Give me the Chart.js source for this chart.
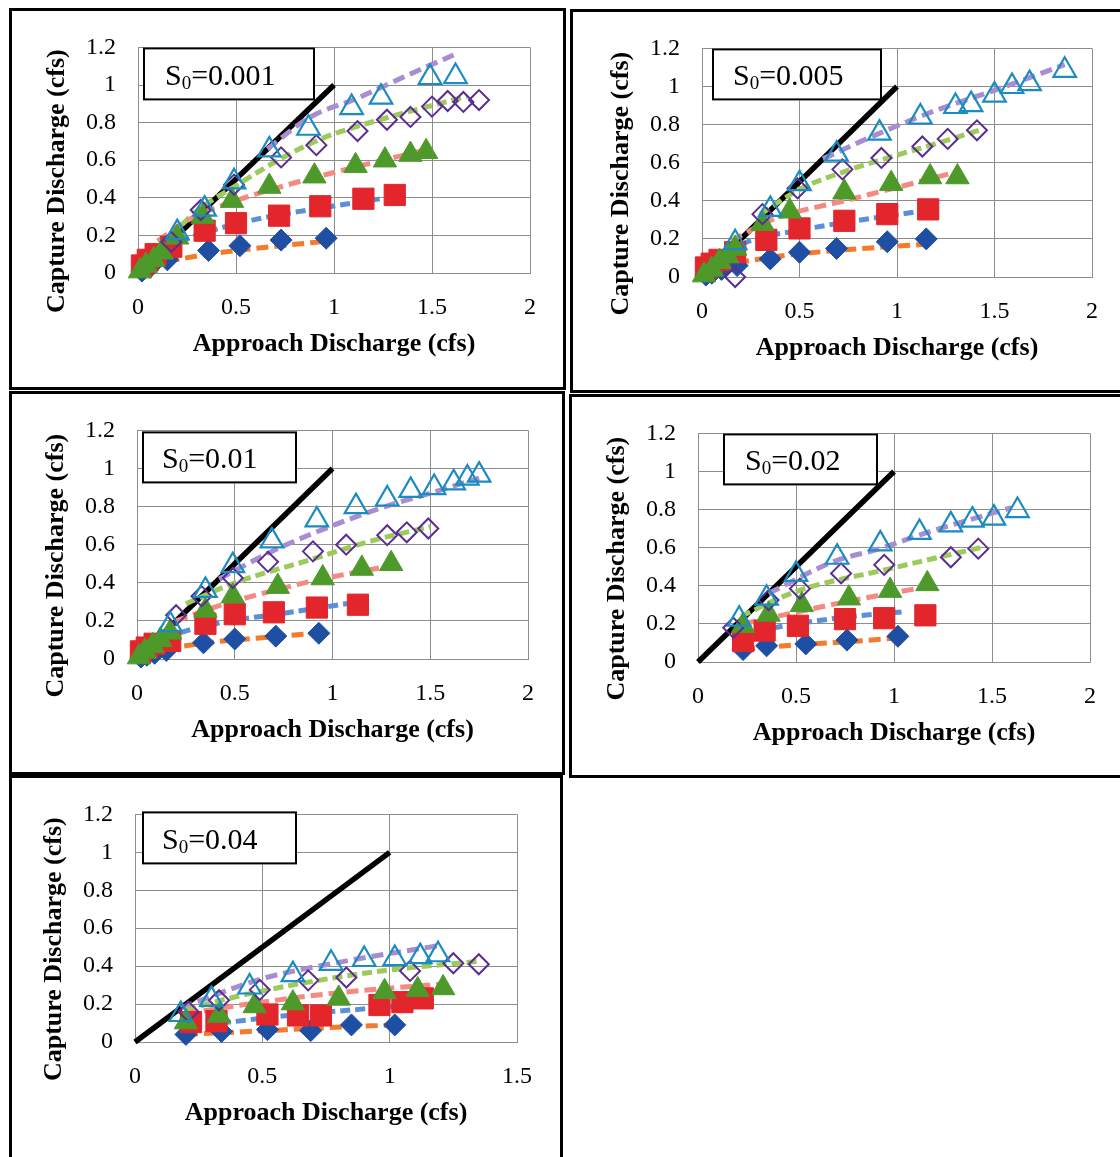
<!DOCTYPE html>
<html>
<head>
<meta charset="utf-8">
<script src="https://cdn.jsdelivr.net/npm/chart.js@4.4.1/dist/chart.umd.min.js"></script>
<style>
html,body{margin:0;padding:0;background:#fff;}
body{width:1120px;height:1157px;position:relative;overflow:hidden;}
.box{position:absolute;border:3px solid #000;box-sizing:border-box;pointer-events:none;}
canvas{position:absolute;}
</style>
</head>
<body>
<script>
// ---------------- DATA ----------------
const xTickLabels2 = ['0','0.5','1','1.5','2'];
const xTickLabels15 = ['0','0.5','1','1.5'];
const yTickLabels = ['0','0.2','0.4','0.6','0.8','1','1.2'];
const slopeLabels = ['0.001','0.005','0.01','0.02','0.04'];
const xTitle = 'Approach Discharge (cfs)';
const yTitle = 'Capture Discharge (cfs)';
const equalityLine = [[0,0],[1,1]];

// Panel 1  S0=0.001
const p1Diamonds = [[0.02,0.01],[0.06,0.03],[0.15,0.07],[0.36,0.12],[0.52,0.145],[0.73,0.175],[0.96,0.185]];
const p1DiamondTrend = [[0.15,0.062],[0.3,0.09],[0.5,0.119],[0.73,0.145],[0.96,0.169]];
const p1Squares = [[0.02,0.04],[0.05,0.07],[0.09,0.1],[0.17,0.14],[0.34,0.225],[0.5,0.265],[0.72,0.305],[0.93,0.355],[1.15,0.395],[1.31,0.415]];
const p1SquareTrend = [[0.02,0.04],[0.1,0.11],[0.3,0.2],[0.6,0.285],[0.9,0.34],[1.3,0.405]];
const p1Triangles = [[0.01,0.01],[0.04,0.04],[0.08,0.07],[0.12,0.11],[0.2,0.19],[0.33,0.3],[0.48,0.385],[0.67,0.46],[0.9,0.515],[1.11,0.57],[1.26,0.6],[1.39,0.63],[1.47,0.645]];
const p1TriangleTrend = [[0.1,0.17],[0.27,0.29],[0.5,0.385],[0.75,0.465],[1.0,0.535],[1.25,0.6],[1.47,0.655]];
const p1OpenDiamonds = [[0.17,0.165],[0.32,0.335],[0.49,0.47],[0.73,0.615],[0.91,0.68],[1.12,0.755],[1.27,0.815],[1.39,0.83],[1.5,0.885],[1.58,0.915],[1.66,0.91],[1.74,0.92]];
const p1OpenDiamondTrend = [[0.17,0.2],[0.3,0.33],[0.5,0.465],[0.75,0.62],[0.95,0.72],[1.25,0.82],[1.68,0.94]];
const p1OpenTriangles = [[0.2,0.215],[0.34,0.34],[0.49,0.485],[0.67,0.655],[0.87,0.77],[1.09,0.88],[1.24,0.935],[1.49,1.04],[1.62,1.045]];
const p1OpenTriangleTrend = [[0.66,0.66],[0.88,0.83],[1.12,0.93],[1.35,1.04],[1.61,1.16]];

// Panel 2  S0=0.005
const p2Diamonds = [[0.02,0.01],[0.05,0.02],[0.1,0.04],[0.18,0.06],[0.35,0.095],[0.5,0.13],[0.69,0.15],[0.95,0.185],[1.15,0.2]];
const p2DiamondTrend = [[0.18,0.075],[0.4,0.11],[0.7,0.14],[1.15,0.172]];
const p2Squares = [[0.02,0.05],[0.05,0.07],[0.09,0.09],[0.17,0.13],[0.33,0.195],[0.5,0.255],[0.73,0.295],[0.95,0.33],[1.16,0.355]];
const p2SquareTrend = [[0.02,0.03],[0.2,0.17],[0.5,0.245],[0.95,0.32],[1.16,0.35]];
const p2Triangles = [[0.01,0.01],[0.05,0.04],[0.09,0.08],[0.13,0.11],[0.17,0.15],[0.31,0.28],[0.45,0.345],[0.73,0.445],[0.97,0.49],[1.17,0.525],[1.31,0.525]];
const p2TriangleTrend = [[0.15,0.19],[0.37,0.305],[0.73,0.4],[1.0,0.47],[1.3,0.55]];
const p2OpenDiamonds = [[0.17,0.0],[0.31,0.33],[0.49,0.465],[0.72,0.565],[0.92,0.625],[1.13,0.685],[1.26,0.725],[1.41,0.77]];
const p2OpenDiamondTrend = [[0.3,0.33],[0.5,0.46],[0.75,0.56],[1.0,0.64],[1.2,0.7],[1.42,0.77]];
const p2OpenTriangles = [[0.17,0.18],[0.35,0.355],[0.5,0.49],[0.69,0.645],[0.91,0.755],[1.12,0.84],[1.3,0.895],[1.38,0.905],[1.5,0.955],[1.59,1.0],[1.68,1.015],[1.86,1.085]];
const p2OpenTriangleTrend = [[0.62,0.62],[0.9,0.75],[1.2,0.875],[1.5,0.98],[1.86,1.115]];

// Panel 3  S0=0.01
const p3Diamonds = [[0.02,0.01],[0.05,0.02],[0.09,0.03],[0.15,0.045],[0.34,0.085],[0.5,0.105],[0.71,0.12],[0.93,0.135]];
const p3DiamondTrend = [[0.15,0.055],[0.4,0.09],[0.7,0.117],[0.94,0.138]];
const p3Squares = [[0.02,0.04],[0.05,0.06],[0.09,0.08],[0.17,0.095],[0.35,0.185],[0.5,0.235],[0.7,0.245],[0.92,0.27],[1.13,0.285]];
const p3SquareTrend = [[0.02,0.03],[0.15,0.11],[0.4,0.185],[0.75,0.24],[1.1,0.295]];
const p3Triangles = [[0.01,0.01],[0.04,0.04],[0.08,0.07],[0.12,0.1],[0.17,0.14],[0.35,0.255],[0.49,0.33],[0.72,0.38],[0.95,0.425],[1.15,0.475],[1.3,0.5]];
const p3TriangleTrend = [[0.2,0.2],[0.42,0.28],[0.7,0.36],[0.9,0.41],[1.3,0.49]];
const p3OpenDiamonds = [[0.2,0.23],[0.33,0.33],[0.49,0.425],[0.67,0.51],[0.9,0.565],[1.07,0.6],[1.28,0.65],[1.38,0.665],[1.49,0.685]];
const p3OpenDiamondTrend = [[0.25,0.29],[0.5,0.4],[0.9,0.525],[1.2,0.62],[1.5,0.695]];
const p3OpenTriangles = [[0.17,0.18],[0.35,0.36],[0.49,0.49],[0.69,0.62],[0.92,0.73],[1.12,0.8],[1.28,0.84],[1.4,0.885],[1.52,0.9],[1.62,0.925],[1.69,0.95],[1.75,0.965]];
const p3OpenTriangleTrend = [[0.42,0.42],[0.7,0.57],[1.0,0.7],[1.3,0.81],[1.5,0.87],[1.75,0.95]];

// Panel 4  S0=0.02
const p4Diamonds = [[0.23,0.065],[0.35,0.085],[0.55,0.095],[0.76,0.115],[1.02,0.135]];
const p4DiamondTrend = [[0.23,0.065],[0.5,0.09],[0.75,0.105],[1.0,0.125]];
const p4Squares = [[0.23,0.11],[0.34,0.165],[0.51,0.19],[0.75,0.225],[0.95,0.23],[1.16,0.245]];
const p4SquareTrend = [[0.23,0.15],[0.5,0.2],[0.75,0.235],[1.06,0.265]];
const p4Triangles = [[0.23,0.19],[0.36,0.25],[0.53,0.3],[0.77,0.335],[0.98,0.375],[1.17,0.41]];
const p4TriangleTrend = [[0.23,0.2],[0.45,0.25],[0.7,0.305],[0.9,0.345],[1.17,0.395]];
const p4OpenDiamonds = [[0.18,0.18],[0.36,0.325],[0.52,0.385],[0.73,0.465],[0.95,0.51],[1.29,0.55],[1.43,0.595]];
const p4OpenDiamondTrend = [[0.22,0.24],[0.5,0.37],[0.98,0.49],[1.44,0.6]];
const p4OpenTriangles = [[0.21,0.225],[0.35,0.335],[0.5,0.46],[0.71,0.55],[0.93,0.62],[1.13,0.68],[1.29,0.72],[1.4,0.745],[1.51,0.755],[1.63,0.795]];
const p4OpenTriangleTrend = [[0.36,0.36],[0.7,0.53],[0.91,0.59],[1.2,0.69],[1.6,0.81]];

// Panel 5  S0=0.04
const p5Diamonds = [[0.2,0.04],[0.34,0.055],[0.52,0.065],[0.69,0.06],[0.85,0.09],[1.02,0.09]];
const p5DiamondTrend = [[0.2,0.04],[0.47,0.057],[0.75,0.075],[1.02,0.09]];
const p5Squares = [[0.22,0.105],[0.32,0.11],[0.52,0.145],[0.64,0.14],[0.73,0.14],[0.96,0.195],[1.05,0.21],[1.13,0.23]];
const p5SquareTrend = [[0.22,0.085],[0.37,0.105],[0.6,0.14],[0.88,0.172],[1.13,0.2]];
const p5Triangles = [[0.2,0.105],[0.33,0.14],[0.47,0.19],[0.62,0.205],[0.8,0.23],[0.98,0.265],[1.11,0.275],[1.21,0.285]];
const p5TriangleTrend = [[0.2,0.15],[0.47,0.205],[0.8,0.26],[1.2,0.305]];
const p5OpenDiamonds = [[0.21,0.16],[0.33,0.22],[0.49,0.275],[0.68,0.325],[0.83,0.34],[1.08,0.375],[1.25,0.415],[1.35,0.41]];
const p5OpenDiamondTrend = [[0.2,0.17],[0.4,0.24],[0.7,0.32],[1.0,0.38],[1.35,0.425]];
const p5OpenTriangles = [[0.18,0.145],[0.3,0.225],[0.45,0.29],[0.62,0.355],[0.77,0.415],[0.9,0.435],[1.02,0.44],[1.12,0.45],[1.19,0.46]];
const p5OpenTriangleTrend = [[0.18,0.18],[0.49,0.33],[0.8,0.42],[1.2,0.51]];

// ---------------- TABLES BUILT FROM DATA ----------------
const panelData = [
  {slope:slopeLabels[0], xMax:2,   xTicks:xTickLabels2,  series:[p1Diamonds,p1Squares,p1Triangles,p1OpenDiamonds,p1OpenTriangles], trends:[p1DiamondTrend,p1SquareTrend,p1TriangleTrend,p1OpenDiamondTrend,p1OpenTriangleTrend]},
  {slope:slopeLabels[1], xMax:2,   xTicks:xTickLabels2,  series:[p2Diamonds,p2Squares,p2Triangles,p2OpenDiamonds,p2OpenTriangles], trends:[p2DiamondTrend,p2SquareTrend,p2TriangleTrend,p2OpenDiamondTrend,p2OpenTriangleTrend]},
  {slope:slopeLabels[2], xMax:2,   xTicks:xTickLabels2,  series:[p3Diamonds,p3Squares,p3Triangles,p3OpenDiamonds,p3OpenTriangles], trends:[p3DiamondTrend,p3SquareTrend,p3TriangleTrend,p3OpenDiamondTrend,p3OpenTriangleTrend]},
  {slope:slopeLabels[3], xMax:2,   xTicks:xTickLabels2,  series:[p4Diamonds,p4Squares,p4Triangles,p4OpenDiamonds,p4OpenTriangles], trends:[p4DiamondTrend,p4SquareTrend,p4TriangleTrend,p4OpenDiamondTrend,p4OpenTriangleTrend]},
  {slope:slopeLabels[4], xMax:1.5, xTicks:xTickLabels15, series:[p5Diamonds,p5Squares,p5Triangles,p5OpenDiamonds,p5OpenTriangles], trends:[p5DiamondTrend,p5SquareTrend,p5TriangleTrend,p5OpenDiamondTrend,p5OpenTriangleTrend]}
];

// ---------------- LAYOUT & STYLE ----------------
const panelLayout = [
  {box:{l:9,t:8,r:566,b:390},    plot:{l:138,t:35,r:530,b:273},   note:{dx:5,dy:0,w:172,h:53,tx:22}},
  {box:{l:570,t:9,r:1126,b:393}, plot:{l:702,t:40,r:1092,b:277},  note:{dx:10,dy:0,w:170,h:52,tx:21}},
  {box:{l:9,t:391,r:565,b:775},  plot:{l:137,t:421,r:528,b:659},  note:{dx:5,dy:1,w:155,h:52,tx:20}},
  {box:{l:569,t:394,r:1126,b:778},plot:{l:698,t:425,r:1090,b:662},note:{dx:25,dy:0,w:155,h:52,tx:22}},
  {box:{l:9,t:775,r:563,b:1162}, plot:{l:135,t:805,r:517,b:1042}, note:{dx:7,dy:-3,w:155,h:53,tx:20}}
];
const markerStyles = [
  {pointStyle:'rectRot',  pointRadius:11,   pointBackgroundColor:'#1f4fa3', pointBorderColor:'#1f4fa3', pointBorderWidth:1, order:5},
  {pointStyle:'rect',     pointRadius:15,   pointBackgroundColor:'#e2262b', pointBorderColor:'#e2262b', pointBorderWidth:1, order:4},
  {pointStyle:'triangle', pointRadius:13.5, pointBackgroundColor:'#4d9a2b', pointBorderColor:'#4d9a2b', pointBorderWidth:1, order:3},
  {pointStyle:'rectRot',  pointRadius:10,   pointBackgroundColor:'rgba(0,0,0,0)', pointBorderColor:'#5a2d91', pointBorderWidth:2, order:2},
  {pointStyle:'triangle', pointRadius:13,   pointBackgroundColor:'rgba(0,0,0,0)', pointBorderColor:'#1a8cc1', pointBorderWidth:2.2, order:1}
];
const trendStyles = [
  {borderColor:'#f47b2b', borderDash:[12,6]},
  {borderColor:'#5b8fd8', borderDash:[10,5]},
  {borderColor:'#f48a82', borderDash:[12,6]},
  {borderColor:'#9dca5c', borderDash:[10,5]},
  {borderColor:'#a88dd0', borderDash:[12,6]}
];
const FONT = "'Liberation Serif','Times New Roman',serif";
const GRID = '#8d8d8d';
const pts = a => a.map(([x,y]) => ({x,y}));

const decorPlugin = {
  id:'decor',
  beforeDatasetsDraw(chart, args, o){
    const ctx = chart.ctx, a = chart.chartArea, n = o.note;
    const bx = a.left + n.dx, by = a.top + n.dy;
    ctx.save();
    ctx.fillStyle = '#fff';
    ctx.fillRect(bx, by, n.w, n.h);
    ctx.lineWidth = 2; ctx.strokeStyle = '#000';
    ctx.strokeRect(bx + 1, by + 1, n.w - 2, n.h - 2);
    ctx.fillStyle = '#000'; ctx.textAlign = 'left'; ctx.textBaseline = 'alphabetic';
    let tx = bx + n.tx; const ty = by + n.h / 2 + 11;
    ctx.font = '30px ' + FONT; ctx.fillText('S', tx, ty); tx += ctx.measureText('S').width;
    ctx.font = '19px ' + FONT; ctx.fillText('0', tx, ty + 4); tx += ctx.measureText('0').width;
    ctx.font = '30px ' + FONT; ctx.fillText('=' + o.slope, tx, ty);
    ctx.restore();
  },
  afterDraw(chart, args, o){
    const ctx = chart.ctx, a = chart.chartArea;
    ctx.save();
    ctx.fillStyle = '#000';
    ctx.font = 'bold 26px ' + FONT;
    ctx.textAlign = 'center'; ctx.textBaseline = 'middle';
    ctx.fillText(o.xTitle, (a.left + a.right) / 2, a.bottom + 71);
    ctx.translate(a.left - 81, (a.top + a.bottom) / 2 + 21);
    ctx.rotate(-Math.PI / 2);
    ctx.fillText(o.yTitle, 0, 0);
    ctx.restore();
  }
};

function buildPanel(i){
  const D = panelData[i], L = panelLayout[i], bw = 3;
  const cL = L.box.l + bw, cT = L.box.t + bw;
  const cR = Math.min(L.box.r - bw, 1120), cB = Math.min(L.box.b - bw, 1157);
  const canvas = document.createElement('canvas');
  canvas.width = cR - cL; canvas.height = cB - cT;
  canvas.style.left = cL + 'px'; canvas.style.top = cT + 'px';
  canvas.style.width = (cR - cL) + 'px'; canvas.style.height = (cB - cT) + 'px';
  document.body.appendChild(canvas);
  const box = document.createElement('div');
  box.className = 'box';
  box.style.left = L.box.l + 'px'; box.style.top = L.box.t + 'px';
  box.style.width = (L.box.r - L.box.l) + 'px'; box.style.height = (L.box.b - L.box.t) + 'px';
  document.body.appendChild(box);

  const datasets = [];
  datasets.push({data:pts(equalityLine), showLine:true, borderColor:'#000', borderWidth:5.5, pointRadius:0, order:100, clip:false});
  D.trends.forEach((t, k) => datasets.push(Object.assign({
    data:pts(t), showLine:true, borderWidth:5, pointRadius:0, cubicInterpolationMode:'monotone', order:50, clip:false
  }, trendStyles[k])));
  D.series.forEach((s, k) => datasets.push(Object.assign({
    data:pts(s), showLine:false, clip:false
  }, markerStyles[k])));

  new Chart(canvas, {
    type:'scatter',
    data:{datasets},
    options:{
      responsive:false, animation:false, devicePixelRatio:1,
      events:[],
      layout:{padding:{left:0, top:L.plot.t - cT, right:cR - L.plot.r, bottom:0}},
      plugins:{
        legend:{display:false}, tooltip:{enabled:false},
        decor:{slope:D.slope, note:L.note, xTitle, yTitle}
      },
      scales:{
        x:{
          type:'linear', min:0, max:D.xMax,
          afterFit(s){ s.height = cB - L.plot.b; },
          ticks:{stepSize:0.5, autoSkip:false, maxRotation:0, minRotation:0, padding:20, color:'#000',
                 font:{family:FONT, size:24}, callback:(v, idx) => D.xTicks[idx]},
          grid:{color:GRID, lineWidth:1, drawTicks:false},
          border:{color:GRID, width:1}
        },
        y:{
          type:'linear', min:0, max:1.2,
          afterFit(s){ s.width = L.plot.l - cL; },
          ticks:{stepSize:0.2, autoSkip:false, padding:22, color:'#000',
                 font:{family:FONT, size:24}, callback:(v, idx) => yTickLabels[idx]},
          grid:{color:GRID, lineWidth:1, drawTicks:false},
          border:{color:GRID, width:1}
        }
      }
    },
    plugins:[decorPlugin]
  });
}
for (let i = 0; i < panelData.length; i++) buildPanel(i);
</script>
</body>
</html>
